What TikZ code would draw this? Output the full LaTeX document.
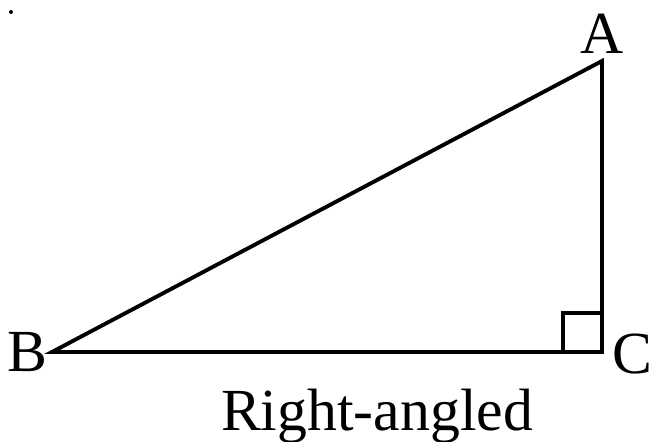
\documentclass[tikz,border=0pt]{standalone}
\usepackage{fontspec}
\setmainfont{Liberation Serif}
\usetikzlibrary{arrows.meta, positioning, calc}

\begin{document}
\begin{tikzpicture}[
  side/.style={line width=2.2pt, line cap=round, line join=miter},
  mark90/.style={line width=1.8pt},
  vlabel/.style={inner sep=0pt, font=\fontsize{34}{40}\selectfont},
  caption/.style={inner sep=0pt, font=\fontsize{34}{40}\selectfont}
]
\useasboundingbox (0,0) rectangle (13.1,8.84);
\coordinate (A) at (12.04,7.62);
\coordinate (B) at (1.04,1.80);
\coordinate (C) at (12.04,1.80);
\node[vlabel] (labA) at (12.04,8.16) {A};
\node[vlabel] (labB) at (0.54,1.80) {B};
\node[vlabel] (labC) at (12.64,1.76) {C};
\draw[side] (B) -- (C) -- (A) -- cycle;
\draw[mark90] ($(C)+(-0.78,0)$) |- ($(C)+(0,0.78)$);
\node[caption, anchor=base] (cap) at (7.54,0.22) {Right-angled};
\fill (0.22,8.60) circle (0.04);
\end{tikzpicture}
\end{document}
